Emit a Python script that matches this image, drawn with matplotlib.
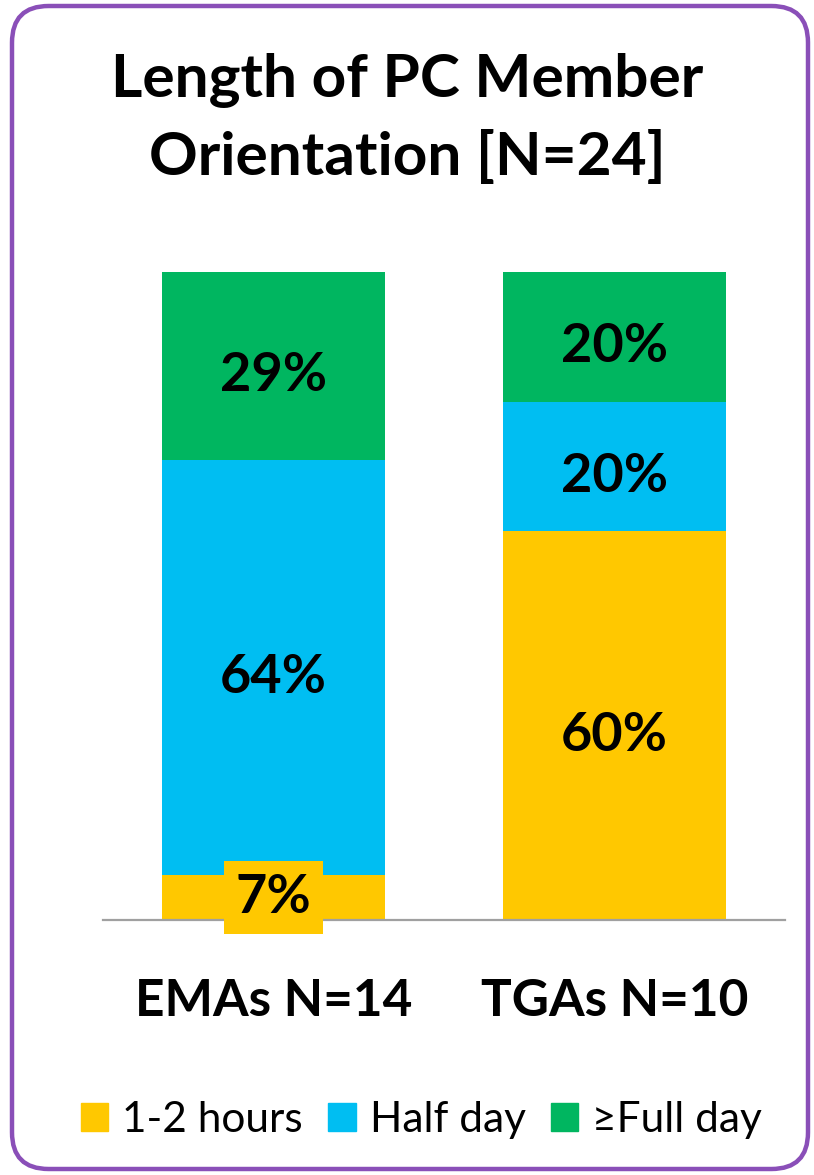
import matplotlib.pyplot as plt
from matplotlib.patches import FancyBboxPatch, Patch

groups = ['EMAs N=14', 'TGAs N=10']
series = ['1-2 hours', 'Half day', '\u2265Full day']
hours = [7, 60]
half_day = [64, 20]
full_day = [29, 20]
colors = ['#FFC800', '#00BEF2', '#00B660']

plt.rcParams['font.family'] = ['Lato', 'DejaVu Sans']

fig = plt.figure(figsize=(8.14, 11.75), dpi=100)
ax = fig.add_axes([103/814, 1-920/1175, 682/814, 648/1175])

x = [0, 1]
w = 0.654
bottom = [0, 0]
for vals, col in zip([hours, half_day, full_day], colors):
    ax.bar(x, vals, w, bottom=bottom, color=col, zorder=2)
    for i, v in enumerate(vals):
        if v < 10:
            # small segment: label sits in its own box over the baseline
            ax.text(x[i], bottom[i] + 3.5, f'{v}%', ha='center', va='center',
                    fontsize=39, fontweight='bold',
                    bbox=dict(boxstyle='square,pad=0.22', fc=col, ec='none'),
                    zorder=5)
        else:
            ax.annotate(f'{v}%', (x[i], bottom[i] + v / 2), xytext=(0, -7),
                        textcoords='offset points', ha='center', va='center',
                        fontsize=39, fontweight='bold', zorder=5)
    bottom = [b + v for b, v in zip(bottom, vals)]

ax.set_xlim(-0.5, 1.5)
ax.set_ylim(0, 100)
ax.set_yticks([])
ax.set_xticks(x)
ax.set_xticklabels(groups, fontsize=37, fontweight='bold')
ax.tick_params(axis='x', length=0, pad=42)
for s in ['top', 'right', 'left']:
    ax.spines[s].set_visible(False)
ax.spines['bottom'].set_color('#A0A0A0')
ax.spines['bottom'].set_linewidth(1.6)

fig.text(0.5, 1-80/1175, 'Length of PC Member', ha='center', va='center',
         fontsize=43.5, fontweight='bold')
fig.text(0.5, 1-158/1175, 'Orientation [N=24]', ha='center', va='center',
         fontsize=43.5, fontweight='bold')

handles = [Patch(color=c) for c in colors]
fig.legend(handles, series, loc='center', bbox_to_anchor=(0.518, 1-1120/1175),
           ncol=3, frameon=False, fontsize=30.5, handlelength=0.64, handleheight=0.62,
           handletextpad=0.33, columnspacing=0.6)

border = FancyBboxPatch((12/814, 6/1175), 796/814, 1163/1175,
                        boxstyle='round,pad=0,rounding_size=0.045',
                        transform=fig.transFigure, fill=False,
                        ec='#8A4FB8', lw=3.2, mutation_aspect=814/1175)
fig.patches.append(border)

fig.savefig('out.png', dpi=100)
